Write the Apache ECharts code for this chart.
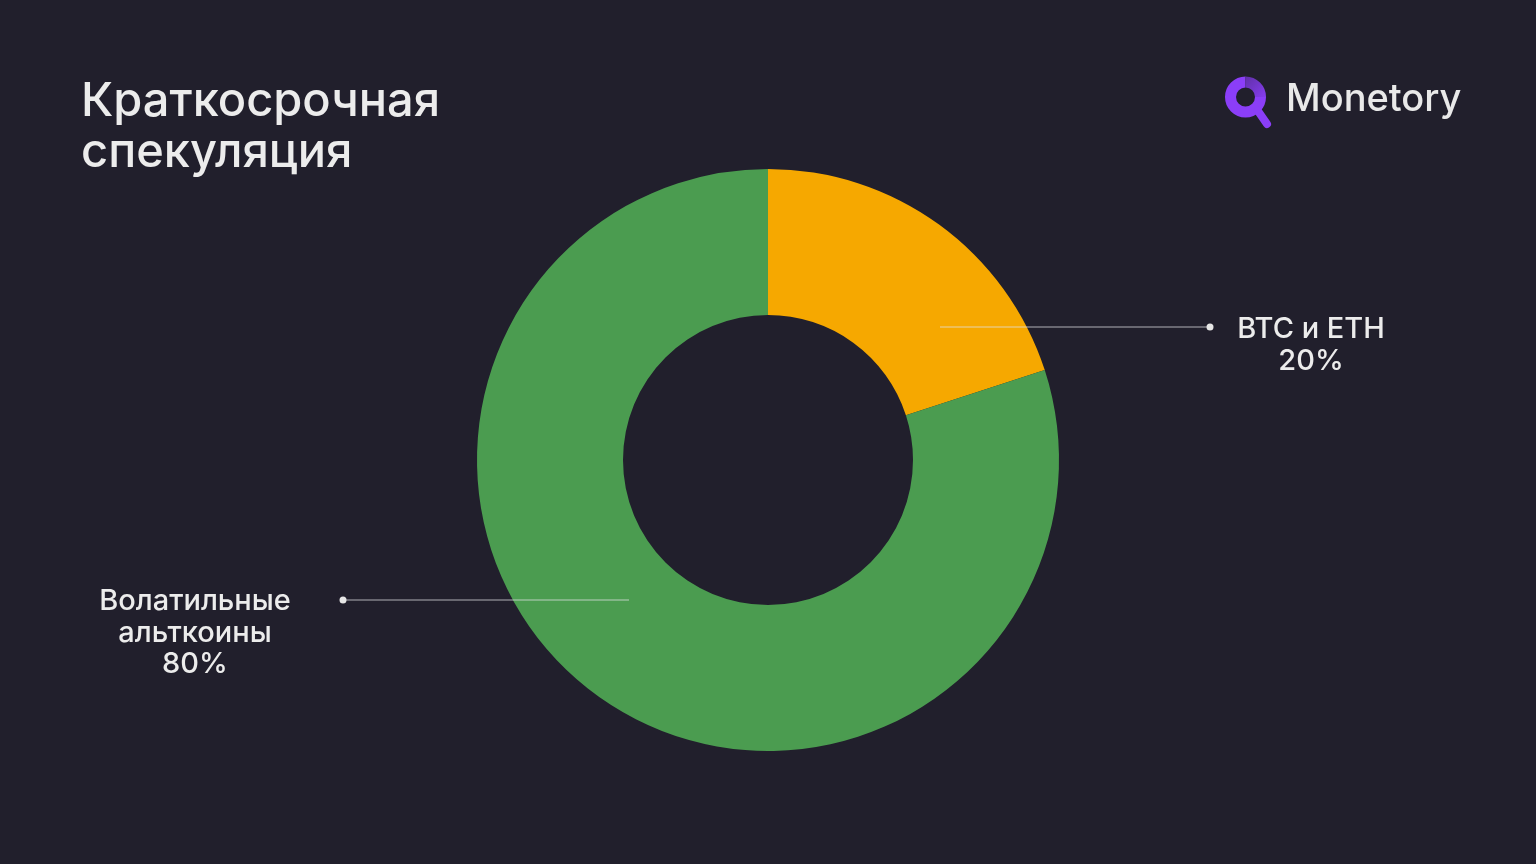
<!DOCTYPE html>
<html lang="ru">
<head>
<meta charset="utf-8">
<title>Краткосрочная спекуляция</title>
<script src="https://cdn.jsdelivr.net/npm/echarts@6/dist/echarts.min.js"></script>
<style>
  html, body { margin: 0; padding: 0; background: #211f2c; }
  #chart { width: 1536px; height: 864px; }
</style>
</head>
<body>
<div id="chart"></div>
<script>
// Portfolio split for short-term speculation
const categories = ['BTC и ETH', 'Волатильные\nальткоины'];
const shares = [20, 80];
const sliceColors = ['#f6a800', '#4b9c50'];

const FONT = 'Inter, "Noto Sans", sans-serif';
const TEXT = '#ececec';

const chart = echarts.init(document.getElementById('chart'), null, { renderer: 'canvas' });

const pieData = categories.map((name, i) => ({
  name: name,
  value: shares[i],
  itemStyle: { color: sliceColors[i] }
}));

// where each label sits and where its leader line runs
const labelSpots = [
  { x: 1311, y: 345, lineHeight: 32, from: [940, 327], to: [1210, 327] },
  { x: 195, y: 633, lineHeight: 31.5, from: [629, 600], to: [343, 600] }
];

// leader lines and end dots, drawn above the ring
const leaderGraphics = [];
labelSpots.forEach(s => {
  leaderGraphics.push({
    type: 'line',
    z: 100,
    shape: { x1: s.from[0], y1: s.from[1], x2: s.to[0], y2: s.to[1] },
    style: { stroke: 'rgba(225,225,230,0.75)', lineWidth: 1 }
  });
  leaderGraphics.push({
    type: 'circle',
    z: 100,
    shape: { cx: s.to[0], cy: s.to[1], r: 3.5 },
    style: { fill: '#e6e6e6' }
  });
});

const option = {
  backgroundColor: '#211f2c',
  animation: false,
  title: {
    text: 'Краткосрочная\nспекуляция',
    left: 81,
    top: 76,
    padding: 0,
    textStyle: {
      color: TEXT,
      fontFamily: FONT,
      fontWeight: 500,
      fontSize: 47,
      lineHeight: 51
    }
  },
  graphic: [
    // logo: ring
    {
      type: 'arc',
      shape: { cx: 1245.5, cy: 97, r: 15, startAngle: 0, endAngle: Math.PI * 1.5, clockwise: true },
      style: { stroke: '#8b3ef8', lineWidth: 11, fill: null }
    },
    {
      type: 'arc',
      shape: { cx: 1245.5, cy: 97, r: 15, startAngle: Math.PI * 1.5, endAngle: Math.PI * 2, clockwise: true },
      style: {
        stroke: new echarts.graphic.LinearGradient(0, 0, 1, 1, [
          { offset: 0, color: '#5b2f9e' },
          { offset: 1, color: '#8b3ef8' }
        ]),
        lineWidth: 11, fill: null
      }
    },
    // logo: handle
    {
      type: 'line',
      shape: { x1: 1258, y1: 111, x2: 1267, y2: 124 },
      style: { stroke: '#8b3ef8', lineWidth: 8, lineCap: 'round' }
    },
    {
      type: 'text',
      left: 1286,
      top: 81,
      style: {
        text: 'Monetory',
        fill: '#e9e9e9',
        font: '500 38px ' + FONT
      }
    }
  ].concat(leaderGraphics),
  series: [
    {
      type: 'pie',
      center: [768, 460],
      radius: [145, 291],
      startAngle: 90,
      clockwise: true,
      silent: true,
      itemStyle: { borderWidth: 0 },
      label: {
        show: true,
        formatter: p => p.name + '\n' + p.value + '%',
        color: TEXT,
        fontFamily: FONT,
        fontWeight: 500,
        fontSize: 29,
        align: 'center'
      },
      labelLine: { show: false },
      labelLayout: function (params) {
        const s = labelSpots[params.dataIndex];
        return { x: s.x, y: s.y, align: 'center', verticalAlign: 'middle' };
      },
      data: pieData
    }
  ]
};

// per-label line heights
option.series[0].data.forEach((d, i) => {
  d.label = { lineHeight: labelSpots[i].lineHeight };
});

chart.setOption(option);
</script>
</body>
</html>
